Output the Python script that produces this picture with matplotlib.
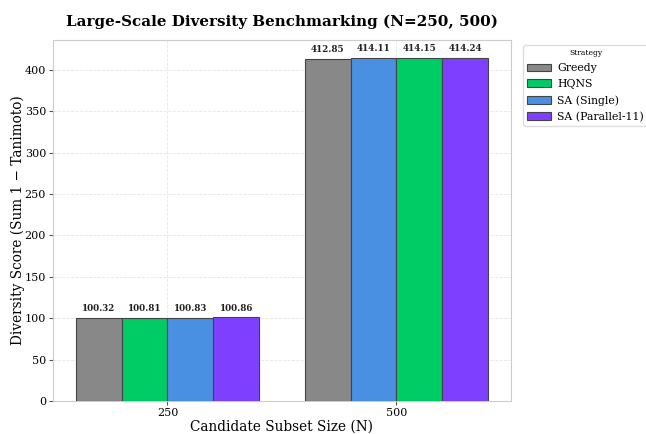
import numpy as np
import matplotlib
matplotlib.use("Agg")
import matplotlib.pyplot as plt

plt.rcParams['font.family'] = ['DejaVu Serif']

# datos
tamanos = ['250', '500']
estrategias = ['Greedy', 'HQNS', 'SA (Single)', 'SA (Parallel-11)']
colores = ['#888888', '#00CC66', '#4A90E2', '#7F3FFF']
greedy = [100.32, 412.85]
hqns = [100.81, 414.15]
sa_single = [100.83, 414.11]
sa_parallel = [100.86, 414.24]

series = [greedy, hqns, sa_single, sa_parallel]

fig, ax = plt.subplots(figsize=(6.46, 4.34), dpi=100)
fig.subplots_adjust(left=0.082, right=0.791, top=0.908, bottom=0.076)

ancho = 0.2
x = np.arange(len(tamanos))
for g in range(len(tamanos)):
    valores = [s[g] for s in series]
    orden = np.argsort(valores)  # barras ordenadas por valor dentro del grupo
    for pos, k in enumerate(orden):
        xb = x[g] + (pos - 1.5) * ancho
        ax.bar(xb, valores[k], ancho, color=colores[k], edgecolor='#444444',
               linewidth=0.8, label=estrategias[k] if g == 0 else None, zorder=3)
        ax.text(xb, valores[k] + 6, f'{valores[k]:.2f}', ha='center', va='bottom',
                fontsize=6.3, fontweight='bold', color='#222222')

ax.set_xlim(-0.5, 1.5)
ax.set_ylim(0, 436)
ax.set_xticks(x)
ax.set_xticklabels(tamanos)
ax.tick_params(labelsize=8, length=3, color='#555555', pad=2)
ax.set_xlabel('Candidate Subset Size (N)', fontsize=9.8, labelpad=1)
ax.set_ylabel('Diversity Score (Sum 1 − Tanimoto)', fontsize=9.8, labelpad=0)
ax.set_title('Large-Scale Diversity Benchmarking (N=250, 500)', fontsize=10.9,
             fontweight='bold', pad=10)
ax.grid(True, linestyle='--', color='#e6e6e6', linewidth=0.6, zorder=0)
for sp in ax.spines.values():
    sp.set_color('#cccccc')

handles, labels = ax.get_legend_handles_labels()
orden_leg = [labels.index(e) for e in estrategias]
leg = ax.legend([handles[i] for i in orden_leg], [labels[i] for i in orden_leg],
                title='Strategy', fontsize=7.8, title_fontsize=5.5,
                loc='upper left', bbox_to_anchor=(1.015, 1.0), framealpha=1,
                edgecolor='#dddddd', handlelength=2.2, handletextpad=0.6,
                labelspacing=0.55, borderaxespad=0.5, borderpad=0.35)

fig.savefig('out.png', dpi=100)
